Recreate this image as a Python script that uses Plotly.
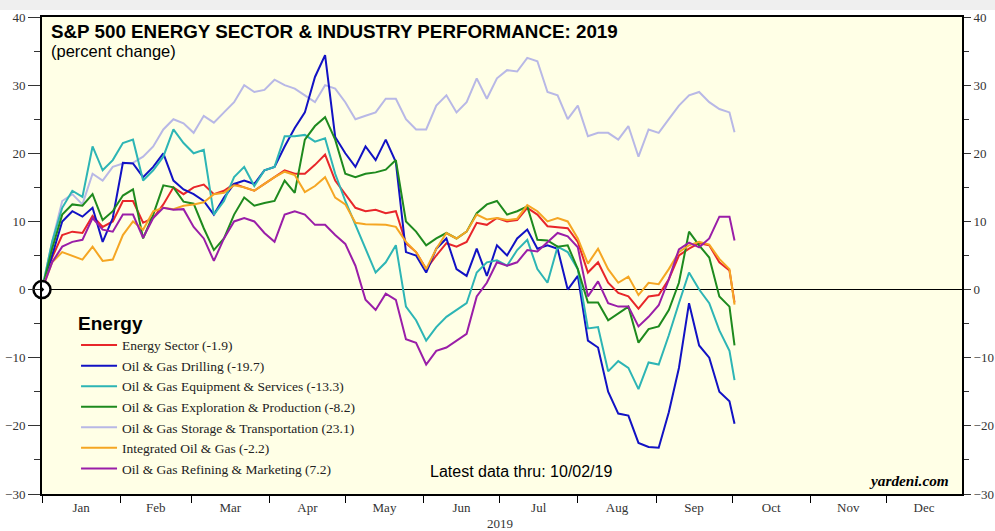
import pandas as pd
import plotly.graph_objects as go

# sample dates: every 4 days from Jan 1, 2019, plus the last data point
dates = list(pd.date_range("2019-01-01", periods=69, freq="4D").strftime("%Y-%m-%d")) + ["2019-10-02"]

energy_sector = [0, 4.7, 8, 8.5, 8.3, 10.8, 9.2, 10, 13, 13, 9.8, 10.5, 12.5, 15, 14, 15, 15.4, 14, 14.5, 15.5,
                 15, 14.5, 15.5, 16.5, 17.5, 17, 17, 18.3, 19.8, 16, 14, 12, 11.5, 11.7, 11.2, 11.5, 6.8, 5.5, 3, 5,
                 6.8, 6.3, 7, 9.8, 9.5, 10.5, 10, 10.2, 12, 11, 9.3, 9.2, 9, 7, 2.5, 4, 1, -0.5, -1, -2.8,
                 -1, -0.8, 1.5, 5, 6, 6.8, 6.5, 4, 2.8, -1.9]
drilling = [0, 5, 10, 11.5, 10.7, 12, 7, 10.5, 18.6, 18.5, 16.5, 18, 20, 16, 14.7, 14, 13, 11, 13.5, 15.5,
            16, 15.5, 17.5, 18, 21, 23.7, 26, 31.2, 34.4, 22.4, 20, 18, 21, 19, 22, 18.7, 5.5, 5, 2.5, 6,
            7.5, 3, 2, 6, 2, 6.5, 5, 7.5, 8.8, 6, 6.5, 6, 0, 2, -7.5, -8.5, -15, -18.2, -18.5, -22.5,
            -23.1, -23.2, -18, -11.5, -2, -8.2, -10, -15, -16.4, -19.7]
equipment = [0, 7, 12, 14.5, 13.6, 21, 17.5, 19, 21.5, 22, 16, 17.5, 19.5, 23.5, 21.5, 20, 20.5, 11, 13, 16.5,
             18, 15.2, 17.5, 18, 22.5, 22.5, 22.7, 21.7, 22.2, 17, 13, 9.5, 6, 2.5, 4, 6.5, -2.5, -4.5, -7.5, -5.5,
             -4, -3, -2, 2.5, 4, 4.3, 3.5, 5.8, 7.3, 3, 1, 6.3, 5.5, 3, -5.7, -5.5, -12, -10.5, -11.5, -14.6,
             -10.7, -11, -6.7, -2, 2.5, 0, -2, -6, -9, -13.3]
exploration = [0, 6, 11, 12.5, 12.3, 14, 10.2, 11.5, 13.8, 14.7, 7.5, 11, 15.3, 15, 12.9, 12.6, 9, 5.8, 7.5, 11,
               13.5, 12.3, 12.7, 13, 16, 14.2, 22, 24, 25.3, 22, 17, 16.5, 17, 17.2, 17.6, 19, 10, 8.5, 6.5, 7.5,
               8.3, 7.5, 8.5, 11.2, 12.5, 13, 11, 11.5, 12.2, 7.3, 7.2, 6.3, 6.5, 3, -1.9, -1.9, -4.5, -3.5, -2.5, -7.8,
               -5.8, -5.4, -3, 1, 8.5, 6.5, 4.7, -1, -2.5, -8.2]
storage = [0, 7, 13, 14, 12.5, 17, 16, 18, 18.5, 18.6, 19.5, 21, 23.5, 25, 24.4, 23, 25.5, 24.5, 26, 27.5,
           30, 29, 29.3, 30.8, 30, 29.5, 28.5, 27.5, 30, 29.5, 27.5, 25, 25.5, 26, 28, 28, 25, 23.5, 23.5, 27,
           28.5, 26, 27.5, 31, 28, 31, 32.2, 32, 34, 33.5, 29, 28.5, 25, 27, 22.5, 23, 23, 22, 24, 19.5,
           23.5, 23, 25, 27, 28.5, 29, 27.5, 26.5, 26, 23.1]
integrated = [0, 4, 5.5, 5, 4.4, 6.3, 4.2, 4.4, 8, 10, 8.8, 11.5, 12, 11.8, 12.3, 12.5, 12.8, 14, 14.2, 15.3,
              15, 14.5, 15.5, 16.5, 17.3, 16.8, 14.3, 15.2, 16.5, 13.5, 12.5, 9.8, 9.6, 9.5, 9.5, 9.2, 7, 5.5, 3, 6,
              8.3, 7.5, 8.5, 11, 10.3, 10.5, 10.2, 10.4, 12.4, 11.5, 10, 10.5, 10, 7.5, 3.8, 6, 3, 1, 1.9, -0.8,
              1, 0.8, 3, 5.5, 6.5, 7, 6.6, 4.5, 3, -2.2]
refining = [0, 4, 6.3, 7, 7.3, 10.5, 8.8, 8.5, 11, 11, 7.6, 10.5, 12, 11.7, 11.8, 9.2, 7.5, 4.2, 7.5, 10,
            10.5, 10, 8.3, 7, 11, 11.5, 11, 9.5, 9.5, 8, 6.7, 3.5, -1.5, -3, -0.6, -1.5, -7.3, -7.8, -11, -9,
            -8.5, -7.5, -6.5, -1, 1, 4, 3.5, 4, 5.8, 5.6, 6.9, 8.3, 7.8, 6.2, -1, 1.2, -2, -2.5, -2.5, -5.4,
            -4, -2.3, 1.5, 5.9, 6.9, 6.2, 7.5, 10.7, 10.7, 7.2]

series_names = ["Energy Sector (-1.9)", "Oil & Gas Drilling (-19.7)", "Oil & Gas Equipment & Services (-13.3)",
                "Oil & Gas Exploration & Production (-8.2)", "Oil & Gas Storage & Transportation (23.1)",
                "Integrated Oil & Gas (-2.2)", "Oil & Gas Refining & Marketing (7.2)"]
series_values = [energy_sector, drilling, equipment, exploration, storage, integrated, refining]
series_colors = ["#E8262A", "#1212C4", "#2DB5B5", "#1E8A1E", "#B8B8E6", "#F5A623", "#9A1EA8"]

y_ticks = [-30, -20, -10, 0, 10, 20, 30, 40]
month_start = "2019-01-01"
month_end = "2019-12-31"

serif = "Liberation Serif, Times New Roman, serif"
sans = "Liberation Sans, Arial, sans-serif"

fig = go.Figure()
draw_order = [4, 0, 1, 2, 3, 5, 6]
for i in draw_order:
    fig.add_trace(go.Scatter(x=dates, y=series_values[i], mode="lines", name=series_names[i],
                             line=dict(color=series_colors[i], width=2), legendrank=i + 1))

# base-point marker at start
fig.add_trace(go.Scatter(x=[dates[0]], y=[energy_sector[0]], mode="markers", showlegend=False,
                         marker=dict(symbol="circle-dot", size=17, color="white",
                                     line=dict(color="black", width=2.5)),
                         cliponaxis=False, hoverinfo="skip"))
# invisible trace carrying the month-boundary tick axis and the right-hand axis
fig.add_trace(go.Scatter(x=[dates[0]], y=[0], xaxis="x2", yaxis="y2", mode="lines", showlegend=False,
                         line=dict(width=0), hoverinfo="skip"))

axis_font = dict(family=serif, size=13, color="#333333")
fig.update_layout(
    width=995, height=531,
    margin=dict(l=42, r=33, t=17, b=37, autoexpand=False),
    paper_bgcolor="white",
    plot_bgcolor="#FFFFE6",
    showlegend=True,
    legend=dict(x=0.037, y=0.396, xanchor="left", yanchor="top",
                bgcolor="rgba(0,0,0,0)", borderwidth=0,
                font=dict(family=serif, size=13.5, color="#222222"),
                title=dict(text="<b>Energy</b>", font=dict(family=sans, size=19, color="black")),
                traceorder="normal", itemwidth=36),
    xaxis=dict(type="date", range=[month_start, month_end], dtick="M1", tick0=month_start,
               tickformat="%b", ticklabelmode="period", ticks="", showgrid=False,
               showline=True, linecolor="black", linewidth=2, mirror=True,
               tickfont=axis_font, automargin=False),
    xaxis2=dict(type="date", range=[month_start, month_end], dtick="M1", tick0=month_start,
                overlaying="x", side="bottom", anchor="y", ticks="outside", ticklen=8,
                tickcolor="black", tickwidth=1, showticklabels=False, showgrid=False,
                showline=False, zeroline=False, automargin=False),
    yaxis=dict(range=[-30, 40], tickvals=y_ticks, ticks="outside", ticklen=12, tickcolor="#333333",
               showgrid=False, showline=True, linecolor="black", linewidth=2,
               zeroline=True, zerolinecolor="black", zerolinewidth=1, automargin=False,
               minor=dict(dtick=5, ticks="outside", ticklen=6, tickcolor="#333333"),
               tickfont=axis_font),
    yaxis2=dict(range=[-30, 40], tickvals=y_ticks, overlaying="y", side="right", anchor="x",
                ticks="outside", ticklen=7, tickcolor="#333333", showgrid=False, showline=True,
                linecolor="black", linewidth=2, zeroline=False, automargin=False,
                minor=dict(dtick=5, ticks="outside", ticklen=5, tickcolor="#333333"),
                tickfont=axis_font),
    annotations=[
        dict(text="<b>S&P 500 ENERGY SECTOR & INDUSTRY PERFORMANCE: 2019</b>", xref="paper", yref="paper",
             x=0.008, y=0.969, xanchor="left", yanchor="middle", showarrow=False,
             font=dict(family=sans, size=18.8, color="black")),
        dict(text="(percent change)", xref="paper", yref="paper", x=0.008, y=0.929,
             xanchor="left", yanchor="middle", showarrow=False,
             font=dict(family=sans, size=16.5, color="black")),
        dict(text="Latest data thru: 10/02/19", xref="paper", yref="paper", x=0.521, y=0.048,
             xanchor="center", yanchor="middle", showarrow=False,
             font=dict(family=sans, size=16, color="black")),
        dict(text="<b><i>yardeni.com</i></b>", xref="paper", yref="paper", x=0.988, y=0.029,
             xanchor="right", yanchor="middle", showarrow=False,
             font=dict(family=serif, size=15.3, color="black")),
        dict(text="2019", xref="paper", yref="paper", x=0.498, y=-0.061,
             xanchor="center", yanchor="middle", showarrow=False, font=axis_font),
    ],
    shapes=[
        dict(type="rect", xref="paper", yref="paper", x0=-0.05, x1=1.04, y0=1.0147, y1=1.04,
             fillcolor="#EFEFEF", line=dict(width=0), layer="below"),
    ],
)

fig.write_html("out.html", post_script="document.body.style.margin='0';",
               config={"displayModeBar": False})
